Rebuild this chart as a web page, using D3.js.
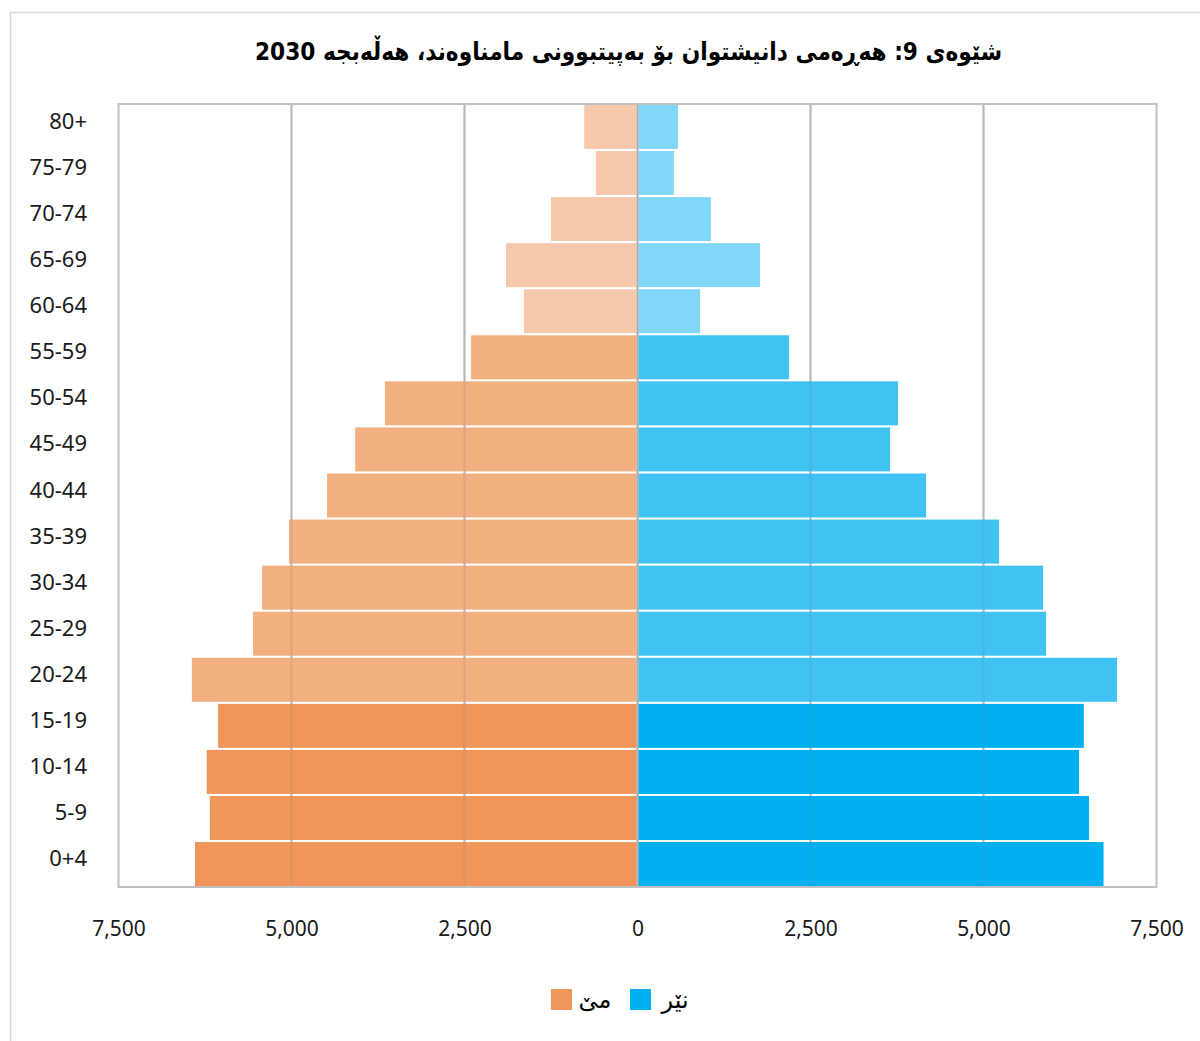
<!DOCTYPE html>
<html>
<head>
<meta charset="utf-8">
<script src="https://cdn.jsdelivr.net/npm/d3@7/dist/d3.min.js"></script>
<style>
  html, body { margin: 0; padding: 0; background: #fff; }
  svg { display: block; }
</style>
</head>
<body>
<svg id="chart" width="1200" height="1041"></svg>
<script>
// ---- data ----
const ageGroups = ["80+","75-79","70-74","65-69","60-64","55-59","50-54","45-49","40-44","35-39","30-34","25-29","20-24","15-19","10-14","5-9","0+4"];
const female = [770, 600, 1250, 1900, 1640, 2405, 3650, 4080, 4485, 5035, 5425, 5555, 6440, 6060, 6225, 6180, 6395];
const male   = [585, 525, 1060, 1770, 905, 2190, 3765, 3650, 4170, 5225, 5860, 5905, 6930, 6450, 6380, 6525, 6735];
const xTicks = [-7500, -5000, -2500, 0, 2500, 5000, 7500];
const titleText = "شێوەی 9: هەڕەمی دانیشتوان بۆ بەپیتبوونی مامناوەند، هەڵەبجە 2030";
const legendFemale = "مێ";
const legendMale = "نێر";

// ---- styles ----
const femaleColors = { young: "#F0965A", adult: "#F2AF80", old: "#F7C9AC" };
const maleColors   = { young: "#00B0F0", adult: "#40C3F3", old: "#81D7F8" };
function tier(label) {
  const start = parseInt(label, 10);
  if (start >= 60) return "old";
  if (start >= 20) return "adult";
  return "young";
}

const svg = d3.select("#chart");
const plot = { left: 118.5, right: 1156.5, top: 104, bottom: 887 };

// outer frame
svg.append("rect").attr("x", 10.5).attr("y", 12.5).attr("width", 1200).attr("height", 1040)
  .attr("fill", "none").attr("stroke", "#d9d9d9").attr("stroke-width", 1.5);

const x = d3.scaleLinear().domain([-7500, 7500]).range([plot.left, plot.right]);
const y = d3.scaleBand().domain(ageGroups).range([plot.top, plot.bottom]).paddingInner(0.045).paddingOuter(0.02);

// gridlines behind
const gridBack = svg.append("g");
gridBack.selectAll("line").data(xTicks.filter(t => Math.abs(t) < 7500)).join("line")
  .attr("x1", d => x(d)).attr("x2", d => x(d))
  .attr("y1", plot.top).attr("y2", plot.bottom)
  .attr("stroke", "#c4c4c4").attr("stroke-width", 2);

// bars
const rows = ageGroups.map((a, i) => ({ age: a, f: female[i], m: male[i] }));
svg.append("g").selectAll("rect").data(rows).join("rect")
  .attr("x", d => x(-d.f)).attr("width", d => x(0) - 1 - x(-d.f))
  .attr("y", d => y(d.age)).attr("height", y.bandwidth())
  .attr("fill", d => femaleColors[tier(d.age)]);
svg.append("g").selectAll("rect").data(rows).join("rect")
  .attr("x", x(0) + 1).attr("width", d => x(d.m) - x(0) - 1)
  .attr("y", d => y(d.age)).attr("height", y.bandwidth())
  .attr("fill", d => maleColors[tier(d.age)]);

// gridlines overlay (seen through bars)
svg.append("g").selectAll("line").data(xTicks.filter(t => Math.abs(t) < 7500)).join("line")
  .attr("x1", d => x(d)).attr("x2", d => x(d))
  .attr("y1", plot.top).attr("y2", plot.bottom)
  .attr("stroke", "#808080").attr("stroke-width", 2).attr("stroke-opacity", d => d === 0 ? 0.35 : 0.18);

// plot border
svg.append("rect").attr("x", plot.left).attr("y", plot.top)
  .attr("width", plot.right - plot.left).attr("height", plot.bottom - plot.top)
  .attr("fill", "none").attr("stroke", "#c0c0c0").attr("stroke-width", 2);

// x axis labels
const xAxis = d3.axisBottom(x).tickValues(xTicks).tickSize(0)
  .tickFormat(d => d3.format(",")(Math.abs(d)));
const gx = svg.append("g").attr("transform", `translate(0, ${plot.bottom + 31})`).call(xAxis);
gx.select(".domain").remove();
gx.selectAll("text").attr("font-family", "'Noto Sans', sans-serif").attr("font-size", 21)
  .attr("fill", "#1a1a1a").attr("dy", "0.71em");

// y axis labels
const yAxis = d3.axisLeft(y).tickSize(0).tickPadding(0);
const gy = svg.append("g").attr("transform", `translate(87, -5)`).call(yAxis);
gy.select(".domain").remove();
gy.selectAll("text").attr("font-family", "'Noto Sans', sans-serif").attr("font-size", 22)
  .attr("fill", "#1a1a1a");

// title
svg.append("text").attr("x", 628.5).attr("y", 60)
  .attr("text-anchor", "middle").attr("direction", "rtl")
  .attr("font-family", "'DejaVu Sans', sans-serif").attr("font-weight", "bold").attr("font-size", 25)
  .attr("textLength", 747).attr("lengthAdjust", "spacingAndGlyphs")
  .attr("fill", "#000")
  .text(titleText);

// legend
const legend = svg.append("g").attr("font-family", "'DejaVu Sans', sans-serif").attr("font-size", 24).attr("fill", "#000");
legend.append("rect").attr("x", 551).attr("y", 989).attr("width", 21).attr("height", 21).attr("fill", femaleColors.young);
legend.append("text").attr("x", 595).attr("y", 1008).attr("text-anchor", "middle").attr("direction", "rtl").text(legendFemale);
legend.append("rect").attr("x", 630).attr("y", 989).attr("width", 21).attr("height", 21).attr("fill", maleColors.young);
legend.append("text").attr("x", 675).attr("y", 1008).attr("text-anchor", "middle").attr("direction", "rtl").text(legendMale);
</script>
</body>
</html>
